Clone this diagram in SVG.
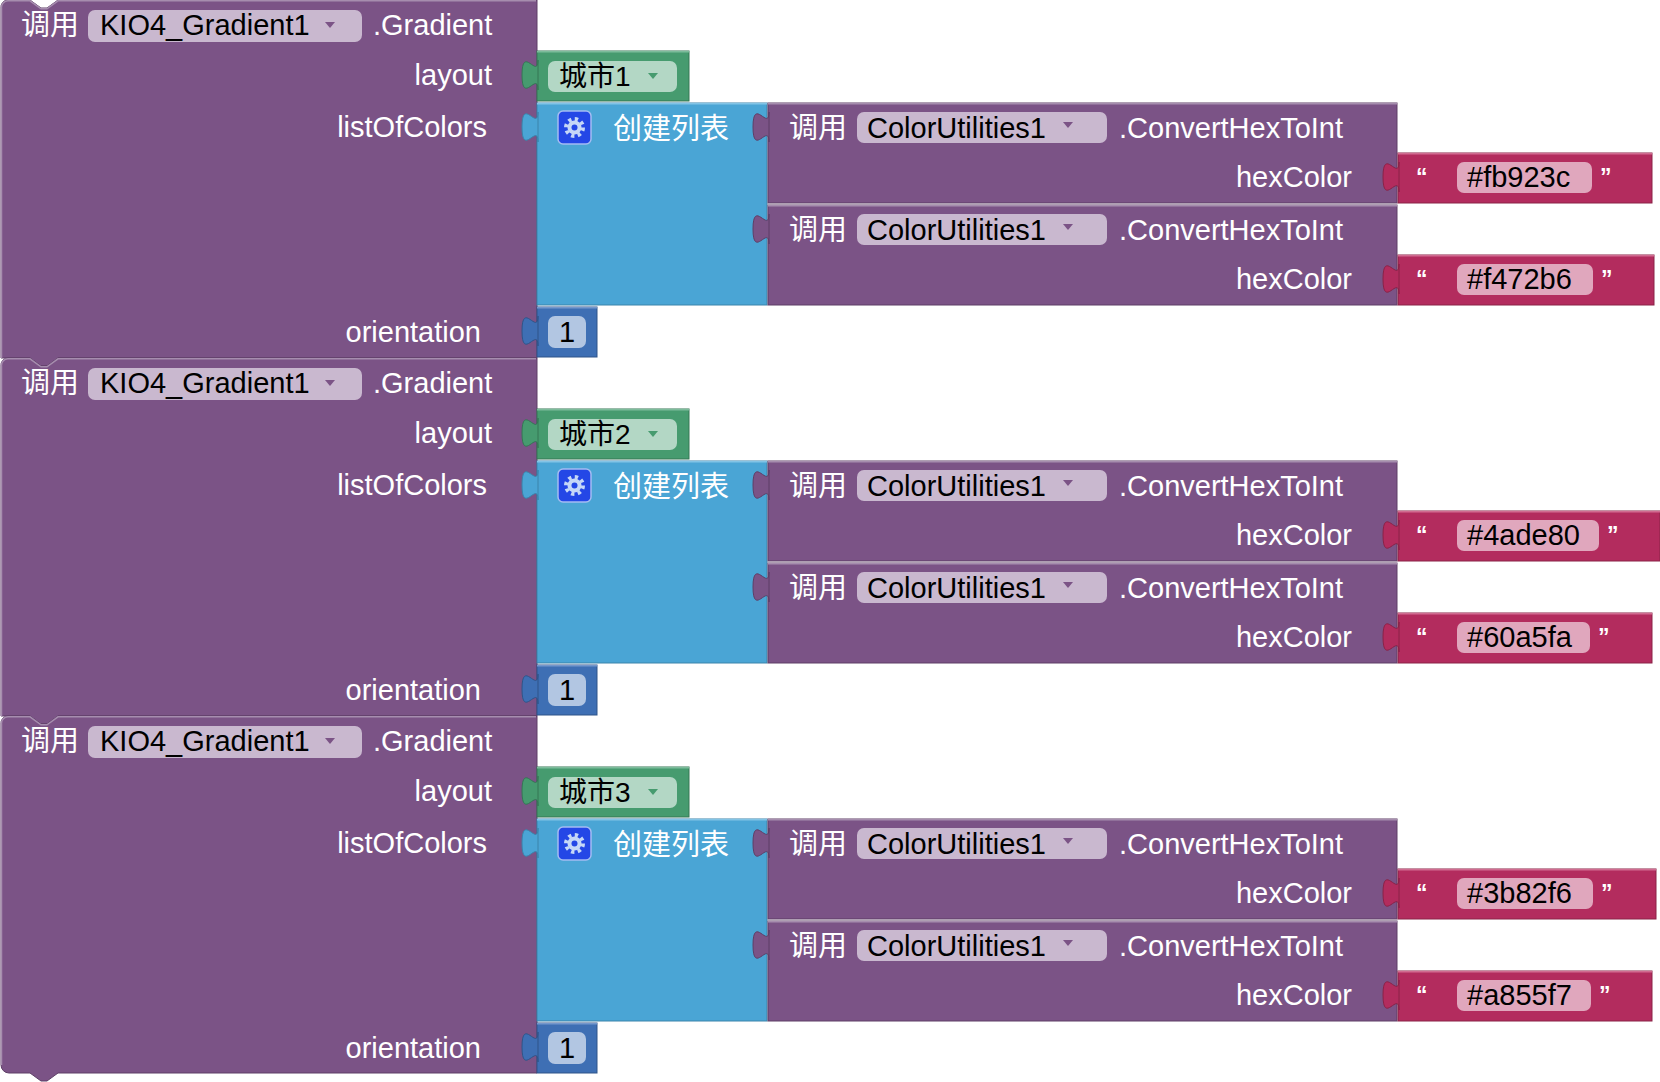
<svg xmlns="http://www.w3.org/2000/svg" xmlns:xlink="http://www.w3.org/1999/xlink" width="1660" height="1082" viewBox="0 0 1660 1082">
<style>
text{font-family:"Liberation Sans","Noto Sans CJK SC",sans-serif;font-size:29px}
.w{fill:#ffffff}
.k{fill:#000000}
.e{text-anchor:end}
.m{text-anchor:middle}
.q{font-size:23px;font-weight:bold;fill:#ffffff}
.main{fill:#7B5386;stroke:#5E3F67;stroke-width:1}
.mhl{fill:none;stroke:#A68DAE;stroke-width:1.5}
.ppill{fill:#C9B8CF}
.parr{fill:#7B5386}
.green{fill:#469B6F;stroke:#357655;stroke-width:1}
.ghl{stroke:#7CBC9B;stroke-width:1.5}
.gpill{fill:#B3D7C5}
.garr{fill:#469B6F}
.blue{fill:#4AA5D5;stroke:#3A84AB;stroke-width:1}
.bhl{stroke:#82C4E6;stroke-width:1.5}
.num{fill:#3E6FB4;stroke:#2F5589;stroke-width:1}
.nhl{stroke:#7397CC;stroke-width:1.5}
.npill{fill:#B2C6E2}
.call{fill:#7B5386;stroke:#5E3F67;stroke-width:1}
.chl{stroke:#A68DAE;stroke-width:1.5}
.red{fill:#B32C5E;stroke:#8A2247;stroke-width:1}
.rhl{stroke:#D16C91;stroke-width:1.5}
.rpill{fill:#E0A7BD}
.gearbox{fill:#2447E6;stroke:#A4BCF2;stroke-width:1.5}
.gear{fill:#C6D8F7}
</style>
<defs>
<path id="tab" d="M0,0 c0,20 -16,-16 -16,15 s16,-5 16,15 Z"/>
<polygon id="arrow" points="-5,0 5,0 0,6"/>
</defs>

<!-- ===== Block 1 ===== -->
<g id="gradient1">
<path class="main" d="M1,8 A7,7 0 0 1 8,0 H30 L41,8 H47 L58,0 H537 V358 H58 L47,366 H41 L30,358 H1 Z"/>
<path class="mhl" d="M1.5,358 V8 A6.5,6.5 0 0 1 8,0.8 H30 L41,8.8 H47 L58,0.8 H536"/>
<text class="w" x="21" y="35">调用</text>
<rect class="ppill" x="88" y="10" width="274" height="32" rx="7"/>
<text class="k" x="100" y="35">KIO4_Gradient1</text>
<use href="#arrow" x="330" y="22" class="parr"/>
<text class="w" x="373" y="35">.Gradient</text>
<text class="w e" x="492" y="85">layout</text>
<text class="w e" x="487" y="137">listOfColors</text>
<text class="w e" x="481" y="342">orientation</text>
</g>
<g id="layout1">
<rect class="green" x="537" y="51" width="152" height="50"/>
<line class="ghl" x1="537" y1="51.8" x2="689" y2="51.8"/>
<rect class="gpill" x="548" y="61" width="129" height="31" rx="7"/>
<text class="k" x="559" y="86" style="font-size:28px">城市1</text>
<use href="#arrow" x="653" y="73" class="garr"/>
</g>
<g id="list1">
<rect class="blue" x="537" y="103" width="230" height="202"/>
<line class="bhl" x1="537" y1="103.8" x2="767" y2="103.8"/>
<rect class="gearbox" x="558" y="111" width="33" height="33" rx="5"/>
<circle cx="574.5" cy="127.5" r="8.5" fill="none" stroke="#C6D8F7" stroke-width="4" stroke-dasharray="3.3 3.38"/>
<circle class="gear" cx="574.5" cy="127.5" r="7"/>
<circle cx="574.5" cy="127.5" r="3" fill="#2447E6"/>
<text class="w" x="613" y="139">创建列表</text>
</g>
<g id="convert1a">
<rect class="call" x="768" y="103" width="629" height="100"/>
<line class="chl" x1="768" y1="103.8" x2="1397" y2="103.8"/>
<text class="w" x="789" y="138">调用</text>
<rect class="ppill" x="857" y="112" width="250" height="31" rx="7"/>
<text class="k" x="867" y="138">ColorUtilities1</text>
<use href="#arrow" x="1068" y="122" class="parr"/>
<text class="w" x="1119" y="138">.ConvertHexToInt</text>
<text class="w e" x="1352" y="187">hexColor</text>
</g>
<g id="convert1b">
<rect class="call" x="768" y="205" width="629" height="100"/>
<line class="chl" x1="768" y1="205.8" x2="1397" y2="205.8"/>
<text class="w" x="789" y="240">调用</text>
<rect class="ppill" x="857" y="214" width="250" height="31" rx="7"/>
<text class="k" x="867" y="240">ColorUtilities1</text>
<use href="#arrow" x="1068" y="224" class="parr"/>
<text class="w" x="1119" y="240">.ConvertHexToInt</text>
<text class="w e" x="1352" y="289">hexColor</text>
</g>
<g id="hex1a">
<rect class="red" x="1398" y="153" width="254" height="50"/>
<line class="rhl" x1="1398" y1="153.8" x2="1652" y2="153.8"/>
<text class="q" x="1416" y="185">“</text>
<rect class="rpill" x="1457" y="162" width="135" height="31" rx="7"/>
<text class="k" x="1467" y="187">#fb923c</text>
<text class="q" x="1600" y="185">”</text>
</g>
<g id="hex1b">
<rect class="red" x="1398" y="255" width="256" height="50"/>
<line class="rhl" x1="1398" y1="255.8" x2="1654" y2="255.8"/>
<text class="q" x="1416" y="287">“</text>
<rect class="rpill" x="1457" y="264" width="136" height="31" rx="7"/>
<text class="k" x="1467" y="289">#f472b6</text>
<text class="q" x="1601" y="287">”</text>
</g>
<g id="orientation1">
<rect class="num" x="537" y="307" width="60" height="50"/>
<line class="nhl" x1="537" y1="307.8" x2="597" y2="307.8"/>
<rect class="npill" x="548" y="316" width="38" height="32" rx="7"/>
<text class="k m" x="567" y="342">1</text>
</g>

<!-- ===== Block 2 ===== -->
<g id="gradient2">
<path class="main" d="M1,366 A7,7 0 0 1 8,358 H30 L41,366 H47 L58,358 H537 V716 H58 L47,724 H41 L30,716 H1 Z"/>
<path class="mhl" d="M1.5,716 V366 A6.5,6.5 0 0 1 8,358.8 H30 L41,366.8 H47 L58,358.8 H536"/>
<text class="w" x="21" y="393">调用</text>
<rect class="ppill" x="88" y="368" width="274" height="32" rx="7"/>
<text class="k" x="100" y="393">KIO4_Gradient1</text>
<use href="#arrow" x="330" y="380" class="parr"/>
<text class="w" x="373" y="393">.Gradient</text>
<text class="w e" x="492" y="443">layout</text>
<text class="w e" x="487" y="495">listOfColors</text>
<text class="w e" x="481" y="700">orientation</text>
</g>
<g id="layout2">
<rect class="green" x="537" y="409" width="152" height="50"/>
<line class="ghl" x1="537" y1="409.8" x2="689" y2="409.8"/>
<rect class="gpill" x="548" y="419" width="129" height="31" rx="7"/>
<text class="k" x="559" y="444" style="font-size:28px">城市2</text>
<use href="#arrow" x="653" y="431" class="garr"/>
</g>
<g id="list2">
<rect class="blue" x="537" y="461" width="230" height="202"/>
<line class="bhl" x1="537" y1="461.8" x2="767" y2="461.8"/>
<rect class="gearbox" x="558" y="469" width="33" height="33" rx="5"/>
<circle cx="574.5" cy="485.5" r="8.5" fill="none" stroke="#C6D8F7" stroke-width="4" stroke-dasharray="3.3 3.38"/>
<circle class="gear" cx="574.5" cy="485.5" r="7"/>
<circle cx="574.5" cy="485.5" r="3" fill="#2447E6"/>
<text class="w" x="613" y="497">创建列表</text>
</g>
<g id="convert2a">
<rect class="call" x="768" y="461" width="629" height="100"/>
<line class="chl" x1="768" y1="461.8" x2="1397" y2="461.8"/>
<text class="w" x="789" y="496">调用</text>
<rect class="ppill" x="857" y="470" width="250" height="31" rx="7"/>
<text class="k" x="867" y="496">ColorUtilities1</text>
<use href="#arrow" x="1068" y="480" class="parr"/>
<text class="w" x="1119" y="496">.ConvertHexToInt</text>
<text class="w e" x="1352" y="545">hexColor</text>
</g>
<g id="convert2b">
<rect class="call" x="768" y="563" width="629" height="100"/>
<line class="chl" x1="768" y1="563.8" x2="1397" y2="563.8"/>
<text class="w" x="789" y="598">调用</text>
<rect class="ppill" x="857" y="572" width="250" height="31" rx="7"/>
<text class="k" x="867" y="598">ColorUtilities1</text>
<use href="#arrow" x="1068" y="582" class="parr"/>
<text class="w" x="1119" y="598">.ConvertHexToInt</text>
<text class="w e" x="1352" y="647">hexColor</text>
</g>
<g id="hex2a">
<rect class="red" x="1398" y="511" width="262" height="50"/>
<line class="rhl" x1="1398" y1="511.8" x2="1660" y2="511.8"/>
<text class="q" x="1416" y="543">“</text>
<rect class="rpill" x="1457" y="520" width="142" height="31" rx="7"/>
<text class="k" x="1467" y="545">#4ade80</text>
<text class="q" x="1607" y="543">”</text>
</g>
<g id="hex2b">
<rect class="red" x="1398" y="613" width="254" height="50"/>
<line class="rhl" x1="1398" y1="613.8" x2="1652" y2="613.8"/>
<text class="q" x="1416" y="645">“</text>
<rect class="rpill" x="1457" y="622" width="133" height="31" rx="7"/>
<text class="k" x="1467" y="647">#60a5fa</text>
<text class="q" x="1598" y="645">”</text>
</g>
<g id="orientation2">
<rect class="num" x="537" y="665" width="60" height="50"/>
<line class="nhl" x1="537" y1="665.8" x2="597" y2="665.8"/>
<rect class="npill" x="548" y="674" width="38" height="32" rx="7"/>
<text class="k m" x="567" y="700">1</text>
</g>

<!-- ===== Block 3 ===== -->
<g id="gradient3">
<path class="main" d="M1,724 A7,7 0 0 1 8,716 H30 L41,724 H47 L58,716 H537 V1073 H58 L47,1081 H41 L30,1073 H9 A8,8 0 0 1 1,1065 Z"/>
<path class="mhl" d="M1.5,1065 V724 A6.5,6.5 0 0 1 8,716.8 H30 L41,724.8 H47 L58,716.8 H536"/>
<text class="w" x="21" y="751">调用</text>
<rect class="ppill" x="88" y="726" width="274" height="32" rx="7"/>
<text class="k" x="100" y="751">KIO4_Gradient1</text>
<use href="#arrow" x="330" y="738" class="parr"/>
<text class="w" x="373" y="751">.Gradient</text>
<text class="w e" x="492" y="801">layout</text>
<text class="w e" x="487" y="853">listOfColors</text>
<text class="w e" x="481" y="1058">orientation</text>
</g>
<g id="layout3">
<rect class="green" x="537" y="767" width="152" height="50"/>
<line class="ghl" x1="537" y1="767.8" x2="689" y2="767.8"/>
<rect class="gpill" x="548" y="777" width="129" height="31" rx="7"/>
<text class="k" x="559" y="802" style="font-size:28px">城市3</text>
<use href="#arrow" x="653" y="789" class="garr"/>
</g>
<g id="list3">
<rect class="blue" x="537" y="819" width="230" height="202"/>
<line class="bhl" x1="537" y1="819.8" x2="767" y2="819.8"/>
<rect class="gearbox" x="558" y="827" width="33" height="33" rx="5"/>
<circle cx="574.5" cy="843.5" r="8.5" fill="none" stroke="#C6D8F7" stroke-width="4" stroke-dasharray="3.3 3.38"/>
<circle class="gear" cx="574.5" cy="843.5" r="7"/>
<circle cx="574.5" cy="843.5" r="3" fill="#2447E6"/>
<text class="w" x="613" y="855">创建列表</text>
</g>
<g id="convert3a">
<rect class="call" x="768" y="819" width="629" height="100"/>
<line class="chl" x1="768" y1="819.8" x2="1397" y2="819.8"/>
<text class="w" x="789" y="854">调用</text>
<rect class="ppill" x="857" y="828" width="250" height="31" rx="7"/>
<text class="k" x="867" y="854">ColorUtilities1</text>
<use href="#arrow" x="1068" y="838" class="parr"/>
<text class="w" x="1119" y="854">.ConvertHexToInt</text>
<text class="w e" x="1352" y="903">hexColor</text>
</g>
<g id="convert3b">
<rect class="call" x="768" y="921" width="629" height="100"/>
<line class="chl" x1="768" y1="921.8" x2="1397" y2="921.8"/>
<text class="w" x="789" y="956">调用</text>
<rect class="ppill" x="857" y="930" width="250" height="31" rx="7"/>
<text class="k" x="867" y="956">ColorUtilities1</text>
<use href="#arrow" x="1068" y="940" class="parr"/>
<text class="w" x="1119" y="956">.ConvertHexToInt</text>
<text class="w e" x="1352" y="1005">hexColor</text>
</g>
<g id="hex3a">
<rect class="red" x="1398" y="869" width="258" height="50"/>
<line class="rhl" x1="1398" y1="869.8" x2="1656" y2="869.8"/>
<text class="q" x="1416" y="901">“</text>
<rect class="rpill" x="1457" y="878" width="136" height="31" rx="7"/>
<text class="k" x="1467" y="903">#3b82f6</text>
<text class="q" x="1601" y="901">”</text>
</g>
<g id="hex3b">
<rect class="red" x="1398" y="971" width="254" height="50"/>
<line class="rhl" x1="1398" y1="971.8" x2="1652" y2="971.8"/>
<text class="q" x="1416" y="1003">“</text>
<rect class="rpill" x="1457" y="980" width="134" height="31" rx="7"/>
<text class="k" x="1467" y="1005">#a855f7</text>
<text class="q" x="1599" y="1003">”</text>
</g>
<g id="orientation3">
<rect class="num" x="537" y="1023" width="60" height="50"/>
<line class="nhl" x1="537" y1="1023.8" x2="597" y2="1023.8"/>
<rect class="npill" x="548" y="1032" width="38" height="32" rx="7"/>
<text class="k m" x="567" y="1058">1</text>
</g>

<!-- ===== Connectors (puzzle tabs) ===== -->
<g id="connectors">
<use href="#tab" x="538" y="60" class="green"/>
<use href="#tab" x="538" y="112" class="blue"/>
<use href="#tab" x="538" y="316" class="num"/>
<use href="#tab" x="769" y="112" class="call"/>
<use href="#tab" x="769" y="214" class="call"/>
<use href="#tab" x="1399" y="162" class="red"/>
<use href="#tab" x="1399" y="264" class="red"/>
<use href="#tab" x="538" y="418" class="green"/>
<use href="#tab" x="538" y="470" class="blue"/>
<use href="#tab" x="538" y="674" class="num"/>
<use href="#tab" x="769" y="470" class="call"/>
<use href="#tab" x="769" y="572" class="call"/>
<use href="#tab" x="1399" y="520" class="red"/>
<use href="#tab" x="1399" y="622" class="red"/>
<use href="#tab" x="538" y="776" class="green"/>
<use href="#tab" x="538" y="828" class="blue"/>
<use href="#tab" x="538" y="1032" class="num"/>
<use href="#tab" x="769" y="828" class="call"/>
<use href="#tab" x="769" y="930" class="call"/>
<use href="#tab" x="1399" y="878" class="red"/>
<use href="#tab" x="1399" y="980" class="red"/>
</g>
</svg>
